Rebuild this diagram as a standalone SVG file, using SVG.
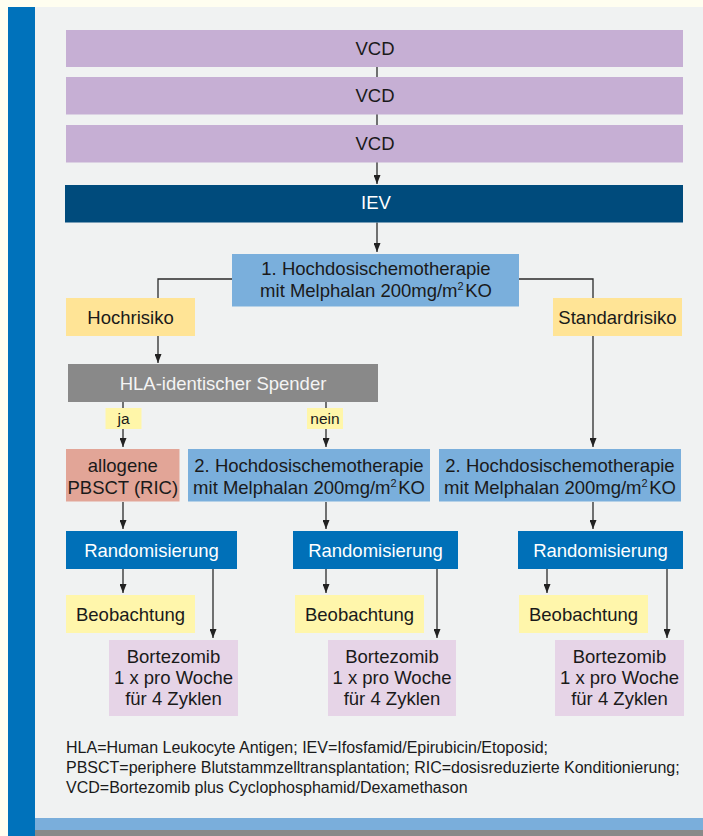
<svg xmlns="http://www.w3.org/2000/svg" width="703" height="836" viewBox="0 0 703 836">
<defs>
<marker id="ah" markerUnits="userSpaceOnUse" markerWidth="9" markerHeight="7" viewBox="0 0 9 7" refX="9" refY="3.5" orient="auto">
<path d="M0,0 L9,3.5 L0,7 z" fill="#222"/>
</marker>
<style>
text{font-family:"Liberation Sans",Arial,Helvetica,sans-serif;font-size:18.5px;fill:#1a1a1a;text-anchor:middle}
.w{fill:#ffffff}
.hw{fill:#f4f4f4}
.sm{font-size:15.5px}
.fn{font-size:16px;text-anchor:start}
.sup{font-size:11px}
.ln{fill:none;stroke:#2a2a2a;stroke-width:1.3}
.arr{marker-end:url(#ah)}
.vcd{fill:#c6afd4}
.iev{fill:#004b7c}
.hd{fill:#7aafdc}
.risk{fill:#ffe496}
.hla{fill:#898989}
.lab{fill:#fff6a9}
.allo{fill:#e2a597}
.rand{fill:#0070b8}
.beo{fill:#fff6ab}
.bort{fill:#e6d4e7}
</style>
</defs>
<rect x="0" y="0" width="703" height="836" fill="#fffef0"/>
<rect x="35" y="7" width="668" height="811" fill="#f0f2f2"/>
<rect x="8" y="7" width="27" height="829" fill="#0072bb"/>
<rect x="35" y="818" width="668" height="12" fill="#7aaedb"/>
<rect x="35" y="830" width="668" height="6" fill="#898989"/>

<g id="connectors">
<path class="ln" d="M377,67 V77"/>
<path class="ln" d="M377,114 V125"/>
<path class="ln arr" d="M377,162 V184"/>
<path class="ln arr" d="M377,222.5 V252"/>
<path class="ln" d="M232,279 H158 V298"/>
<path class="ln" d="M519,279 H593 V298"/>
<path class="ln arr" d="M158,336 V363"/>
<path class="ln arr" d="M593,336 V447"/>
<path class="ln arr" d="M123,402 V447"/>
<path class="ln arr" d="M326,402 V447"/>
<path class="ln arr" d="M123,502 V529"/>
<path class="ln arr" d="M326,502 V529"/>
<path class="ln arr" d="M593,502 V529"/>
<path class="ln arr" d="M123,569 V593"/>
<path class="ln arr" d="M213,569 V638"/>
<path class="ln arr" d="M326,569 V593"/>
<path class="ln arr" d="M437,569 V638"/>
<path class="ln arr" d="M547,569 V593"/>
<path class="ln arr" d="M667,569 V638"/>
</g>

<g id="vcd1"><rect class="vcd" x="66" y="30" width="617" height="37"/><text x="375" y="54.5">VCD</text></g>
<g id="vcd2"><rect class="vcd" x="66" y="77" width="617" height="37.5"/><text x="375" y="102">VCD</text></g>
<g id="vcd3"><rect class="vcd" x="66" y="125" width="617" height="37.5"/><text x="375" y="150">VCD</text></g>
<g id="iev"><rect class="iev" x="65" y="185" width="618" height="37.5"/><text class="w" x="376" y="209">IEV</text></g>
<g id="hd1"><rect class="hd" x="232" y="254" width="287" height="52.5"/>
<text x="376" y="274.5">1. Hochdosischemotherapie</text>
<text x="376" y="297">mit Melphalan 200mg/m<tspan class="sup" dy="-7">2</tspan><tspan dx="1.5" dy="7">KO</tspan></text></g>
<g id="hochrisiko"><rect class="risk" x="66" y="298" width="129" height="38"/><text x="130.5" y="323.5">Hochrisiko</text></g>
<g id="standardrisiko"><rect class="risk" x="553" y="298" width="129" height="38"/><text x="617.5" y="323.5">Standardrisiko</text></g>
<g id="hla"><rect class="hla" x="68" y="364" width="310" height="38"/><text class="hw" x="223" y="389.5">HLA-identischer Spender</text></g>
<g id="ja"><rect class="lab" x="105.5" y="408" width="36" height="21"/><text class="sm" x="123.5" y="423.5">ja</text></g>
<g id="nein"><rect class="lab" x="307" y="408" width="36" height="21"/><text class="sm" x="325" y="423.5">nein</text></g>
<g id="allogene"><rect class="allo" x="66" y="449" width="113.5" height="52.5"/>
<text x="122.8" y="472">allogene</text><text x="122.8" y="494">PBSCT (RIC)</text></g>
<g id="hd2a"><rect class="hd" x="188" y="449" width="242" height="52.5"/>
<text x="309" y="472">2. Hochdosischemotherapie</text>
<text x="309" y="494">mit Melphalan 200mg/m<tspan class="sup" dy="-7">2</tspan><tspan dx="1.5" dy="7">KO</tspan></text></g>
<g id="hd2b"><rect class="hd" x="439" y="449" width="242" height="52.5"/>
<text x="560" y="472">2. Hochdosischemotherapie</text>
<text x="560" y="494">mit Melphalan 200mg/m<tspan class="sup" dy="-7">2</tspan><tspan dx="1.5" dy="7">KO</tspan></text></g>
<g id="rand1"><rect class="rand" x="66" y="531" width="171" height="38"/><text class="w" x="151.5" y="556.5">Randomisierung</text></g>
<g id="rand2"><rect class="rand" x="293" y="531" width="165" height="38"/><text class="w" x="375.5" y="556.5">Randomisierung</text></g>
<g id="rand3"><rect class="rand" x="518" y="531" width="165" height="38"/><text class="w" x="600.5" y="556.5">Randomisierung</text></g>
<g id="beo1"><rect class="beo" x="66" y="595" width="129" height="38"/><text x="130.5" y="620.5">Beobachtung</text></g>
<g id="beo2"><rect class="beo" x="295" y="595" width="129" height="38"/><text x="359.5" y="620.5">Beobachtung</text></g>
<g id="beo3"><rect class="beo" x="519" y="595" width="129" height="38"/><text x="583.5" y="620.5">Beobachtung</text></g>
<g id="bort1"><rect class="bort" x="109" y="640" width="129" height="76"/>
<text x="173.5" y="663">Bortezomib</text><text x="173.5" y="684">1 x pro Woche</text><text x="173.5" y="705">für 4 Zyklen</text></g>
<g id="bort2"><rect class="bort" x="328" y="640" width="128" height="76"/>
<text x="392" y="663">Bortezomib</text><text x="392" y="684">1 x pro Woche</text><text x="392" y="705">für 4 Zyklen</text></g>
<g id="bort3"><rect class="bort" x="555" y="640" width="129" height="76"/>
<text x="619.5" y="663">Bortezomib</text><text x="619.5" y="684">1 x pro Woche</text><text x="619.5" y="705">für 4 Zyklen</text></g>

<g id="footnote">
<text class="fn" x="66" y="753">HLA=Human Leukocyte Antigen; IEV=Ifosfamid/Epirubicin/Etoposid;</text>
<text class="fn" x="66" y="773">PBSCT=periphere Blutstammzelltransplantation; RIC=dosisreduzierte Konditionierung;</text>
<text class="fn" x="66" y="792.5">VCD=Bortezomib plus Cyclophosphamid/Dexamethason</text>
</g>
</svg>
